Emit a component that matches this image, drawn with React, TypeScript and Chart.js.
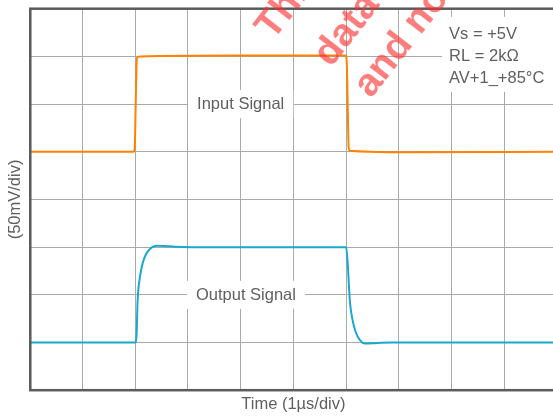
import React, { useEffect, useRef } from 'react';
import { Chart, registerables } from 'chart.js';

Chart.register(...registerables);

// Time in µs (1 µs per division), amplitude in divisions (50 mV per division)
const inputTimeUs = [0, 1.97, 1.99, 2.006, 2.025, 2.036, 2.09, 4.0, 5.99, 6.01, 6.05, 6.07, 7.0, 10];
const inputDiv = [5.0, 5.0, 5.07, 5.84, 6.82, 6.97, 7.0, 7.02, 7.02, 6.93, 5.07, 5.02, 4.99, 5.0];

const outputTimeUs = [0, 2.0, 2.025, 2.044, 2.068, 2.12, 2.182, 2.277, 2.404, 2.56, 2.75, 3.07, 6.0, 6.028, 6.053, 6.072, 6.116, 6.18, 6.262, 6.357, 6.546, 6.863, 10];
const outputDiv = [1.0, 1.0, 1.155, 1.855, 2.206, 2.563, 2.8, 2.962, 3.03, 3.025, 3.01, 3.0, 3.0, 2.695, 2.206, 1.855, 1.506, 1.225, 1.05, 0.981, 0.987, 1.002, 1.0];

const signalLabels = ['Input Signal', 'Output Signal'];
const signalLabelTimeUs = [4.0, 4.1];
const signalLabelDiv = [6, 2];

const conditionLines = ['Vs = +5V', 'RL = 2kΩ', 'AV+1_+85°C'];
const conditionBoxTimeUs = 7.82;
const conditionBoxDiv = 7.83;

const watermarkLines = ['This is preliminary', 'data subject to change', 'and not guaranteed'];

const FONT = "'Liberation Sans', Arial, sans-serif";
const TEXT_COLOR = '#606060';

const overlayPlugin = {
  id: 'overlay',
  beforeDatasetsDraw(chart: any) {
    const { ctx, scales, chartArea } = chart;
    const xs = scales.x;
    const ys = scales.y;
    ctx.save();
    ctx.font = `16.5px ${FONT}`;
    ctx.textBaseline = 'middle';
    ctx.textAlign = 'center';
    signalLabels.forEach((t, i) => {
      const cx = xs.getPixelForValue(signalLabelTimeUs[i]);
      const cy = ys.getPixelForValue(signalLabelDiv[i]);
      const w = ctx.measureText(t).width + 18;
      ctx.fillStyle = '#ffffff';
      ctx.fillRect(cx - w / 2, cy - 14, w, 28);
      ctx.fillStyle = TEXT_COLOR;
      ctx.fillText(t, cx, cy + 0.5);
    });
    // condition box
    ctx.beginPath();
    ctx.rect(chartArea.left, chartArea.top, chartArea.right - chartArea.left, chartArea.bottom - chartArea.top);
    ctx.clip();
    const bx = xs.getPixelForValue(conditionBoxTimeUs);
    const by = ys.getPixelForValue(conditionBoxDiv);
    ctx.fillStyle = '#ffffff';
    ctx.fillRect(bx, by, 130, 75);
    ctx.fillStyle = TEXT_COLOR;
    ctx.textAlign = 'left';
    ctx.textBaseline = 'alphabetic';
    conditionLines.forEach((t, i) => {
      ctx.fillText(t, bx + 7, by + 22 + i * 22);
    });
    ctx.restore();
  },
  afterDatasetsDraw(chart: any) {
    const { ctx, chartArea } = chart;
    ctx.save();
    ctx.strokeStyle = '#5b5b5b';
    ctx.lineWidth = 2.5;
    ctx.strokeRect(chartArea.left + 0.5, chartArea.top, chartArea.right - chartArea.left, chartArea.bottom - chartArea.top);
    ctx.restore();
  },
  afterDraw(chart: any) {
    const { ctx } = chart;
    const starts = [
      [273, 41],
      [331, 68],
      [371, 99],
    ];
    ctx.save();
    ctx.font = `bold 39px ${FONT}`;
    ctx.fillStyle = 'rgba(255, 45, 45, 0.62)';
    ctx.textAlign = 'left';
    ctx.textBaseline = 'alphabetic';
    watermarkLines.forEach((t, i) => {
      ctx.save();
      ctx.translate(starts[i][0], starts[i][1]);
      ctx.rotate((-52 * Math.PI) / 180);
      ctx.fillText(t, 0, 0);
      ctx.restore();
    });
    ctx.restore();
  },
};

export default function App() {
  const ref = useRef<HTMLCanvasElement>(null);
  useEffect(() => {
    const canvas = ref.current;
    if (!canvas) return;
    const chart = new Chart(canvas, {
      type: 'line',
      data: {
        datasets: [
          {
            label: 'Input Signal',
            data: inputTimeUs.map((x, i) => ({ x, y: inputDiv[i] })),
            borderColor: '#ff8200',
            borderWidth: 2,
            pointRadius: 0,
            cubicInterpolationMode: 'monotone',
            fill: false,
          },
          {
            label: 'Output Signal',
            data: outputTimeUs.map((x, i) => ({ x, y: outputDiv[i] })),
            borderColor: '#19a8d0',
            borderWidth: 2,
            pointRadius: 0,
            cubicInterpolationMode: 'monotone',
            fill: false,
          },
        ],
      },
      options: {
        responsive: false,
        animation: false,
        layout: { padding: { left: 2, top: 8.7, right: 9, bottom: 0 } },
        plugins: { legend: { display: false }, tooltip: { enabled: false } },
        scales: {
          x: {
            type: 'linear',
            min: 0,
            max: 10,
            ticks: { display: false, stepSize: 1 },
            grid: { color: '#aaaaaa', lineWidth: 1, drawTicks: false },
            border: { display: false },
            title: {
              display: true,
              text: 'Time (1µs/div)',
              color: TEXT_COLOR,
              font: { family: FONT, size: 16.5 },
              padding: { top: 4, bottom: 4 },
            },
          },
          y: {
            type: 'linear',
            min: 0,
            max: 8,
            ticks: { display: false, stepSize: 1 },
            grid: { color: '#aaaaaa', lineWidth: 1, drawTicks: false },
            border: { display: false },
            title: {
              display: true,
              text: '(50mV/div)',
              color: TEXT_COLOR,
              font: { family: FONT, size: 16.5 },
              padding: { top: 4, bottom: 4 },
            },
          },
        },
      },
      plugins: [overlayPlugin],
    } as any);
    return () => chart.destroy();
  }, []);
  return (
    <div style={{ position: 'fixed', left: 0, top: 0, width: 553, height: 418, overflow: 'hidden', background: '#ffffff' }}>
      <canvas ref={ref} width={566} height={418} style={{ display: 'block' }} />
    </div>
  );
}
